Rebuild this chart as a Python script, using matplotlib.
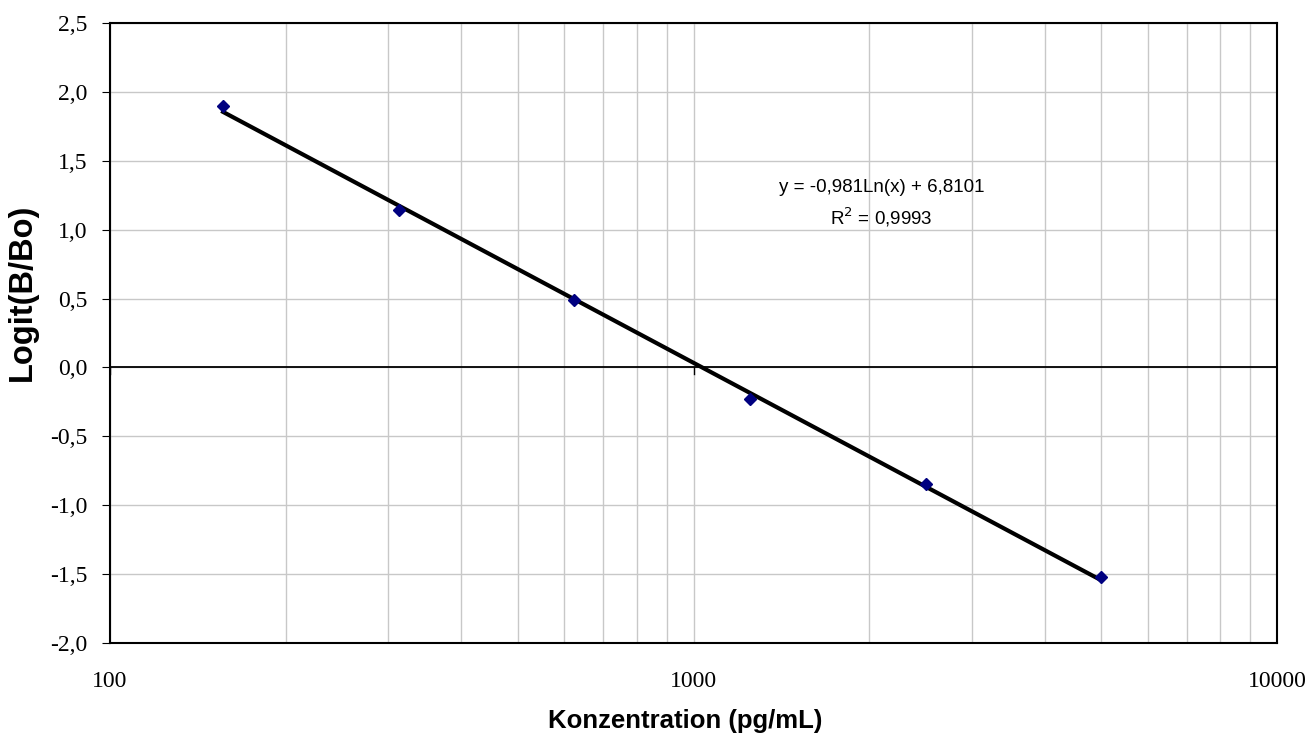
import numpy as np
import matplotlib
matplotlib.use("Agg")
import matplotlib.pyplot as plt
from matplotlib.ticker import FixedLocator, FuncFormatter, NullFormatter

# Standardkurve: Konzentration vs. Logit(B/Bo)
conc = [156.25, 312.5, 625, 1250, 2500, 5000]
logit = [1.90, 1.145, 0.49, -0.23, -0.845, -1.52]
slope, intercept = -0.981, 6.8101
eq_text = "y = -0,981Ln(x) + 6,8101\nR$^2$ = 0,9993"

y_ticks = [-2.0, -1.5, -1.0, -0.5, 0.0, 0.5, 1.0, 1.5, 2.0, 2.5]
x_major = [100, 1000, 10000]

W, H = 1307, 734
fig = plt.figure(figsize=(W / 100, H / 100), dpi=100)
ax = fig.add_axes([110 / W, 1 - 643 / H, 1167 / W, 620 / H])

ax.set_xscale("log")
ax.set_xlim(100, 10000)
ax.set_ylim(-2.0, 2.5)

# Gitter
minor = [m * d for d in (100, 1000) for m in range(2, 10)]
ax.xaxis.set_major_locator(FixedLocator(x_major))
ax.xaxis.set_minor_locator(FixedLocator(minor))
ax.xaxis.set_minor_formatter(NullFormatter())
ax.xaxis.set_major_formatter(FuncFormatter(lambda v, p: f"{int(v)}"))
ax.yaxis.set_major_locator(FixedLocator(y_ticks))
ax.yaxis.set_major_formatter(FuncFormatter(lambda v, p: f"{v:.1f}".replace(".", ",")))
ax.grid(True, which="both", axis="x", color="#c8c8c8", linewidth=1)
ax.grid(True, which="major", axis="y", color="#c8c8c8", linewidth=1)
ax.set_axisbelow(True)

# Nulllinie mit Ticks (Excel-Stil)
ax.axhline(0, color="black", linewidth=1.3, zorder=2)
for xv in x_major:
    ax.plot([xv, xv], [0, -0.05], color="black", linewidth=1.0, zorder=2)

# Trendlinie und Messpunkte
xs = np.geomspace(conc[0], conc[-1], 50)
ax.plot(xs, slope * np.log(xs) + intercept, color="black", linewidth=3, zorder=3)
ax.plot(conc, logit, linestyle="none", marker="D", markersize=6.5,
        color="#000080", zorder=4)

ax.text(0.661, 0.708, eq_text, transform=ax.transAxes, ha="center",
        va="center", fontsize=13.5, family="Liberation Sans", linespacing=1.5)

for s in ax.spines.values():
    s.set_color("black")
    s.set_linewidth(1.5)

ax.tick_params(axis="y", which="major", direction="out", length=6,
               labelsize=17, pad=10)
ax.tick_params(axis="x", which="both", length=0, labelsize=17, pad=20)
for lbl in ax.get_xticklabels() + ax.get_yticklabels():
    lbl.set_family("Liberation Serif")

# Achsentitel
fig.text(685 / W, 1 - 721 / H, "Konzentration (pg/mL)", ha="center",
         va="center", fontsize=18.5, fontweight="bold", family="Liberation Sans")
fig.text(22 / W, 1 - 292 / H, "Logit(B/Bo)", ha="center", va="center",
         rotation=90, fontsize=23.5, fontweight="bold", family="Liberation Sans")

fig.savefig("out.png", dpi=100)
